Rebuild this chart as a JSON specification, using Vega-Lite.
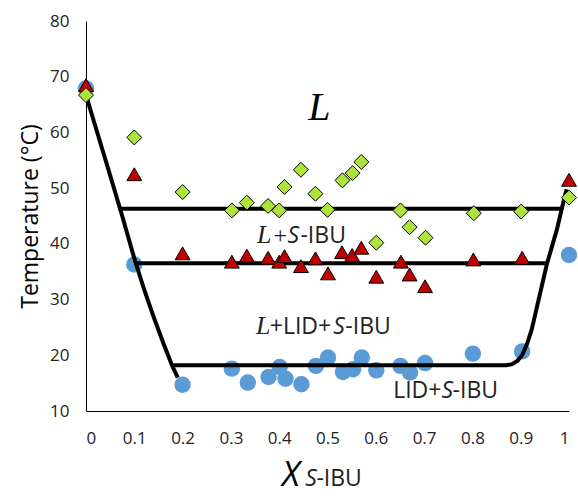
{
  "$schema": "https://vega.github.io/schema/vega-lite/v6.json",
  "width": 483,
  "height": 390,
  "autosize": {"type": "none"},
  "padding": {"left": 86, "top": 21, "right": 9, "bottom": 88},
  "background": "white",
  "config": {"view": {"stroke": null}},
  "datasets": {
    "circles": [
      {"x": 0, "t": 67.9}, {"x": 0.1, "t": 36.3}, {"x": 0.2, "t": 14.7},
      {"x": 0.302, "t": 17.6}, {"x": 0.335, "t": 15.1}, {"x": 0.378, "t": 16.1},
      {"x": 0.401, "t": 17.9}, {"x": 0.413, "t": 15.8}, {"x": 0.446, "t": 14.8},
      {"x": 0.476, "t": 18.1}, {"x": 0.501, "t": 19.6}, {"x": 0.532, "t": 17.0},
      {"x": 0.553, "t": 17.5}, {"x": 0.571, "t": 19.6}, {"x": 0.601, "t": 17.3},
      {"x": 0.651, "t": 18.1}, {"x": 0.671, "t": 16.9}, {"x": 0.702, "t": 18.6},
      {"x": 0.801, "t": 20.3}, {"x": 0.903, "t": 20.7}, {"x": 1.0, "t": 38.0}
    ],
    "triangles": [
      {"x": 0, "t": 68.5}, {"x": 0.1, "t": 52.5}, {"x": 0.2, "t": 38.3},
      {"x": 0.302, "t": 36.8}, {"x": 0.333, "t": 37.9}, {"x": 0.377, "t": 37.5},
      {"x": 0.4, "t": 36.8}, {"x": 0.411, "t": 37.8}, {"x": 0.445, "t": 36.0},
      {"x": 0.475, "t": 37.4}, {"x": 0.501, "t": 34.7}, {"x": 0.53, "t": 38.5},
      {"x": 0.551, "t": 38.0}, {"x": 0.57, "t": 39.3}, {"x": 0.601, "t": 34.1},
      {"x": 0.652, "t": 36.8}, {"x": 0.67, "t": 34.5}, {"x": 0.702, "t": 32.4},
      {"x": 0.802, "t": 37.2}, {"x": 0.903, "t": 37.5}, {"x": 1.0, "t": 51.5}
    ],
    "diamonds": [
      {"x": 0, "t": 66.7}, {"x": 0.1, "t": 59.1}, {"x": 0.2, "t": 49.3},
      {"x": 0.302, "t": 46.0}, {"x": 0.333, "t": 47.4}, {"x": 0.377, "t": 46.8},
      {"x": 0.4, "t": 46.0}, {"x": 0.411, "t": 50.2}, {"x": 0.445, "t": 53.3},
      {"x": 0.475, "t": 49.0}, {"x": 0.5, "t": 46.1}, {"x": 0.531, "t": 51.4},
      {"x": 0.552, "t": 52.7}, {"x": 0.57, "t": 54.7}, {"x": 0.601, "t": 40.2},
      {"x": 0.651, "t": 46.0}, {"x": 0.67, "t": 43.0}, {"x": 0.703, "t": 41.1},
      {"x": 0.803, "t": 45.5}, {"x": 0.901, "t": 45.8}, {"x": 1.0, "t": 48.3}
    ],
    "lines": [
      {"line": "A", "x": 0, "t": 66.7}, {"line": "A", "x": 0.025, "t": 59.5},
      {"line": "A", "x": 0.05, "t": 52.3}, {"line": "A", "x": 0.075, "t": 45.0},
      {"line": "A", "x": 0.1, "t": 37.4}, {"line": "A", "x": 0.12, "t": 31.9},
      {"line": "A", "x": 0.14, "t": 26.9}, {"line": "A", "x": 0.16, "t": 22.2},
      {"line": "A", "x": 0.178, "t": 18.2}, {"line": "A", "x": 0.19, "t": 16.0},
      {"line": "B", "x": 0.067, "t": 46.3}, {"line": "B", "x": 0.985, "t": 46.3},
      {"line": "C", "x": 0.1, "t": 36.5}, {"line": "C", "x": 0.954, "t": 36.5},
      {"line": "D", "x": 0.178, "t": 18.2}, {"line": "D", "x": 0.87, "t": 18.2},
      {"line": "D", "x": 0.882, "t": 18.4}, {"line": "D", "x": 0.893, "t": 19.0},
      {"line": "D", "x": 0.903, "t": 20.0}, {"line": "D", "x": 0.913, "t": 22.0},
      {"line": "D", "x": 0.923, "t": 24.7}, {"line": "D", "x": 0.954, "t": 36.3},
      {"line": "D", "x": 0.975, "t": 42.6}, {"line": "D", "x": 0.985, "t": 46.3},
      {"line": "D", "x": 0.995, "t": 49.8}
    ],
    "bigL": [{"x": 0.46, "t": 62.2, "text": "L"}],
    "serifL": [
      {"x": 0.354, "t": 40.2, "text": "L"},
      {"x": 0.352, "t": 23.8, "text": "L"}
    ],
    "serifPlus": [
      {"x": 0.388, "t": 40.2, "text": "+"}
    ],
    "sansText": [
      {"x": 0.444, "t": 40.2, "text": "-IBU"},
      {"x": 0.3805, "t": 23.8, "text": "+LID+"},
      {"x": 0.537, "t": 23.8, "text": "-IBU"},
      {"x": 0.636, "t": 12.3, "text": "LID+"},
      {"x": 0.759, "t": 12.3, "text": "-IBU"},
      {"x": 0.477, "t": -3.46, "text": "-IBU"}
    ],
    "sansItalic": [
      {"x": 0.417, "t": 40.2, "text": "S"},
      {"x": 0.512, "t": 23.8, "text": "S"},
      {"x": 0.736, "t": 12.3, "text": "S"},
      {"x": 0.454, "t": -3.46, "text": "S"}
    ],
    "bigX": [{"x": 0.406, "t": -3.46, "text": "X"}]
  },
  "encoding": {
    "x": {
      "field": "x", "type": "quantitative",
      "scale": {"domain": [0, 1], "nice": false, "zero": false},
      "axis": {
        "values": [0, 0.1, 0.2, 0.3, 0.4, 0.5, 0.6, 0.7, 0.8, 0.9, 1],
        "format": "~g", "title": null, "grid": false, "ticks": false,
        "labelPadding": 19, "labelFont": "Open Sans", "labelFontSize": 17,
        "labelColor": "#222", "domainColor": "#000", "domainWidth": 1
      }
    },
    "y": {
      "field": "t", "type": "quantitative",
      "scale": {"domain": [10, 80], "nice": false, "zero": false},
      "axis": {
        "values": [10, 20, 30, 40, 50, 60, 70, 80],
        "title": "Temperature  (°C)", "grid": false, "ticks": false,
        "labelPadding": 17, "labelFont": "Open Sans", "labelFontSize": 17,
        "labelColor": "#222", "domainColor": "#000", "domainWidth": 1,
        "titleFont": "Open Sans", "titleFontSize": 23, "titleFontWeight": "normal",
        "titleColor": "#000", "titlePadding": 7
      }
    }
  },
  "layer": [
    {
      "data": {"name": "circles"},
      "mark": {"type": "point", "shape": "circle", "filled": true, "size": 270, "color": "#5B9BD5", "opacity": 1}
    },
    {
      "data": {"name": "lines"},
      "mark": {"type": "line", "color": "#000", "strokeWidth": 4},
      "encoding": {"detail": {"field": "line"}}
    },
    {
      "data": {"name": "triangles"},
      "mark": {"type": "point", "shape": "triangle-up", "filled": true, "size": 220, "fill": "#C00000", "stroke": "#000", "strokeWidth": 1, "opacity": 1}
    },
    {
      "data": {"name": "diamonds"},
      "mark": {"type": "point", "shape": "diamond", "filled": true, "size": 225, "fill": "#ACE43C", "stroke": "#000", "strokeWidth": 1, "opacity": 1}
    },
    {
      "data": {"name": "bigL"},
      "mark": {"type": "text", "font": "Liberation Serif", "fontStyle": "italic", "fontSize": 40, "align": "left", "baseline": "alphabetic", "color": "#000"},
      "encoding": {"text": {"field": "text"}}
    },
    {
      "data": {"name": "serifL"},
      "mark": {"type": "text", "font": "Liberation Serif", "fontStyle": "italic", "fontSize": 26, "align": "left", "baseline": "alphabetic", "color": "#222"},
      "encoding": {"text": {"field": "text"}}
    },
    {
      "data": {"name": "serifPlus"},
      "mark": {"type": "text", "font": "Liberation Serif", "fontSize": 24, "align": "left", "baseline": "alphabetic", "color": "#222"},
      "encoding": {"text": {"field": "text"}}
    },
    {
      "data": {"name": "sansText"},
      "mark": {"type": "text", "font": "Open Sans", "fontSize": 23, "align": "left", "baseline": "alphabetic", "color": "#222"},
      "encoding": {"text": {"field": "text"}}
    },
    {
      "data": {"name": "sansItalic"},
      "mark": {"type": "text", "font": "Open Sans", "fontStyle": "italic", "fontSize": 23, "align": "left", "baseline": "alphabetic", "color": "#222"},
      "encoding": {"text": {"field": "text"}}
    },
    {
      "data": {"name": "bigX"},
      "mark": {"type": "text", "font": "Open Sans", "fontStyle": "italic", "fontSize": 34, "align": "left", "baseline": "alphabetic", "color": "#000"},
      "encoding": {"text": {"field": "text"}}
    }
  ]
}
